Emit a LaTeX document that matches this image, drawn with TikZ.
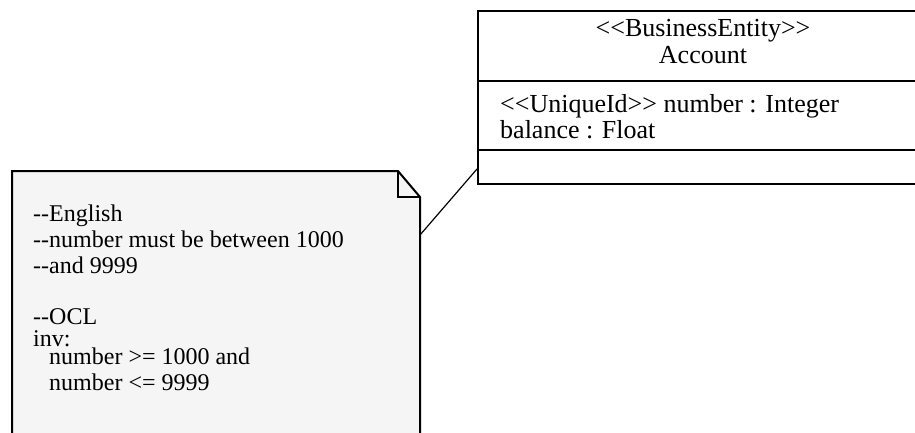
\documentclass[tikz,border=0pt]{standalone}
\usepackage{fontspec}
\setmainfont{Liberation Serif}[Ligatures=TeXOff]
\usetikzlibrary{positioning}
\definecolor{notegray}{HTML}{F5F5F5}
\tikzstyle{classbox} = [draw=black, line width=2pt, rectangle, inner sep=0pt,
    minimum width=452pt, minimum height=173pt]
\tikzstyle{classtext} = [inner sep=0pt, font=\fontsize{26}{30}\selectfont]
\tikzstyle{notetext} = [inner sep=0pt, anchor=base west, font=\fontsize{24}{29}\selectfont]
\tikzstyle{notebox} = [draw=black, line width=2pt, fill=notegray, line join=miter]
\tikzstyle{anchorline} = [draw=black, line width=1.2pt]

\begin{document}
\begin{tikzpicture}[x=1pt,y=-1pt]
\useasboundingbox (0,0) rectangle (915,432);
% class Account
\node [classbox, anchor=north west] (account) at (477,10) {};
\draw [line width=2pt] ([yshift=-71pt]account.north west) -- ([yshift=-71pt]account.north east);
\draw [line width=2pt] ([yshift=-140pt]account.north west) -- ([yshift=-140pt]account.north east);
\node [classtext, anchor=base] (stereo) at (703,36) {<<BusinessEntity>>};
\node [classtext, anchor=base] (name) at (703,63) {Account};
\node [classtext, anchor=base west] (attrid) at (500,112) {<<UniqueId>> number : Integer};
\node [classtext, anchor=base west] (attrbal) at (500,138) {balance : Float};
% note
\filldraw [notebox] (12,445) -- (12,171) -- (398,171) -- (420,197) -- (420,445);
\draw [line width=1.5pt] (398,171) -- (398,197) -- (420,197);
\node [notetext] (eng) at (33,221) {--English};
\node [notetext] (eng2) at (33,247) {--number must be between 1000};
\node [notetext] (eng3) at (33,273) {--and 9999};
\node [notetext] (ocl) at (33,324) {--OCL};
\node [notetext] (inv) at (33,346) {inv:};
\node [notetext] (cond1) at (49,364) {number >= 1000 and};
\node [notetext] (cond2) at (49,390) {number <= 9999};
% anchor
\coordinate (noteside) at (420,235);
\coordinate (classside) at (477,169);
\draw [anchorline] (noteside) -- (classside);
\end{tikzpicture}
\end{document}
